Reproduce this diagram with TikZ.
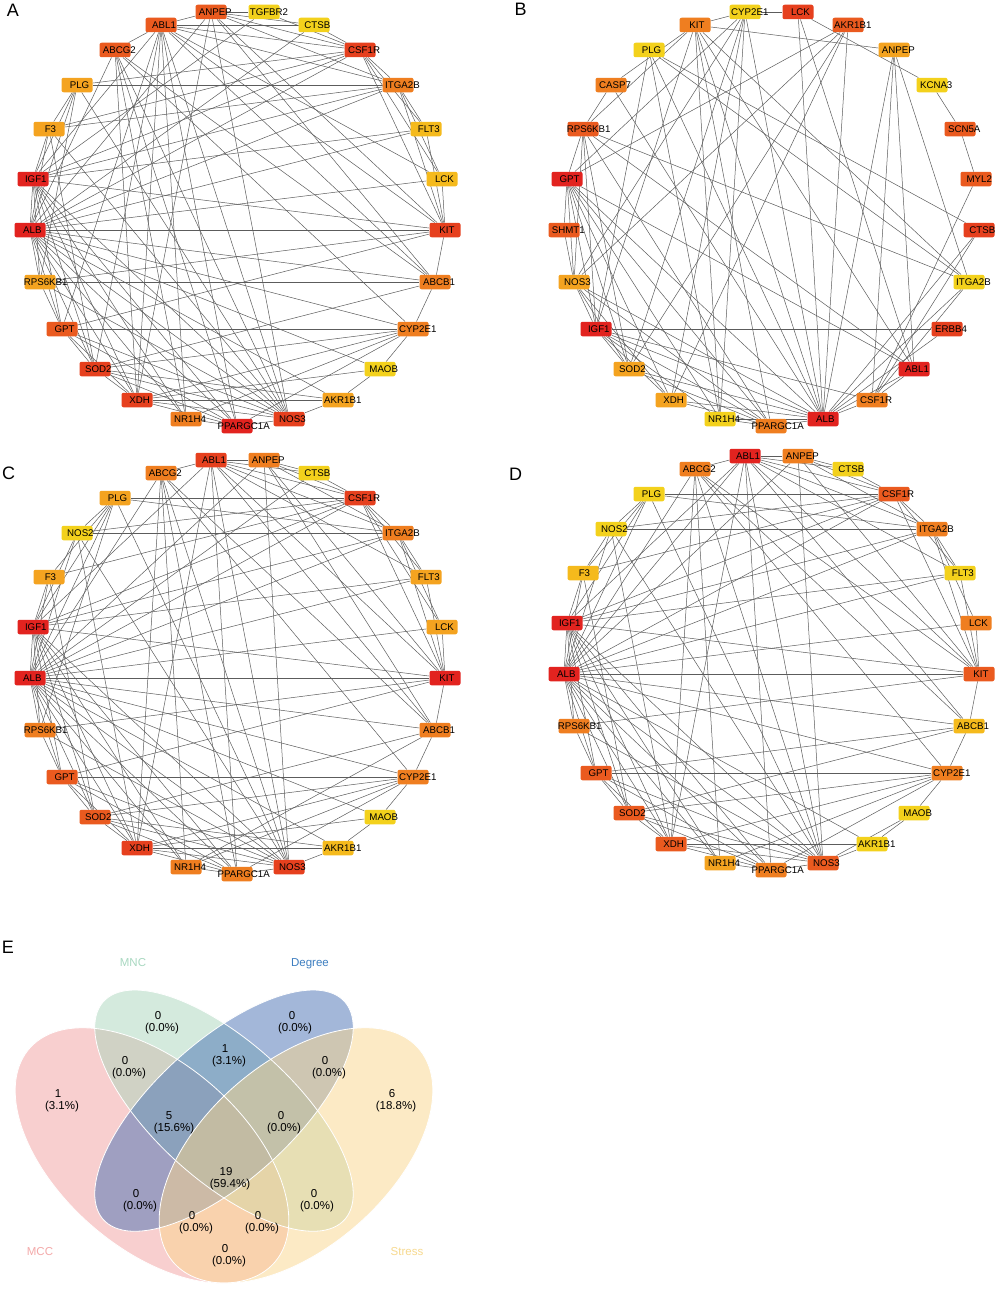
\documentclass[tikz,border=0pt]{standalone}
\usepackage{fontspec}
\setmainfont{Liberation Sans}
\pgfdeclarelayer{back}
\pgfdeclarelayer{bg}
\pgfsetlayers{back,bg,main}
\definecolor{cR}{HTML}{E2231F}
\definecolor{cRO}{HTML}{E6401E}
\definecolor{cOR}{HTML}{EA5A1F}
\definecolor{cO}{HTML}{EF7E20}
\definecolor{cLO}{HTML}{F4A320}
\definecolor{cYO}{HTML}{F5BA1C}
\definecolor{cY}{HTML}{F3D11C}
\definecolor{vMCC}{RGB}{243,160,160}
\definecolor{vMNC}{RGB}{170,214,188}
\definecolor{vDEG}{RGB}{72,113,180}
\definecolor{vSTR}{RGB}{250,214,140}
\definecolor{tMCC}{HTML}{F4A9A9}
\definecolor{tMNC}{HTML}{A8D8C0}
\definecolor{tDEG}{HTML}{3D7EC0}
\definecolor{tSTR}{HTML}{F7D98E}
\newlength\labw
\newcommand\gfont{\fontsize{9.7}{10}\selectfont}
\newcommand\shiftlab[1]{\settowidth\labw{#1}\hspace*{0.26\labw}#1}
\def\SX{{211,264,314,360,398,426,442,445,435,413,380,338,289,237,186,137,95,62,40,30,33,49,77,115,161}}
\def\SY{{12,12,25,50,85,129,179,230,282,329,369,400,419,426,419,400,369,329,282,230,179,129,85,50,25}}
\tikzset{
  gbox/.style={rectangle, rounded corners=2pt, minimum width=31pt, minimum height=14.5pt, inner sep=0pt, draw=none},
  glabel/.style={inner sep=0pt, font=\gfont, text=black},
  gedge/.style={draw=black!64, line width=0.5pt},
  plet/.style={inner sep=0pt, font=\fontsize{18}{18}\selectfont},
  vtxt/.style={inner sep=0pt, font=\fontsize{11.5}{12}\selectfont},
}
\newcommand\gpanel[4]{%
  \foreach \nm/\col [count=\i from 0] in {#4} {%
    \pgfmathsetmacro\px{\SX[\i]+#1}%
    \pgfmathsetmacro\py{\SY[\i]+#2}%
    \node[gbox, fill=\col] (#3\nm) at (\px,\py) {};
    \node[glabel] at (\px,\py) {\shiftlab{\nm}};
  }%
}
\newcommand\gedges[2]{%
  \begin{pgfonlayer}{bg}
  \foreach \u/\v in {#2} {\draw[gedge] (#1\u) -- (#1\v);}
  \end{pgfonlayer}%
}
\newcommand\vell[4]{plot[domain=0:357, samples=120, smooth cycle, variable=\t]
  ({-16+480*(#1+0.35*cos(\t)*cos(#4)-#3*sin(\t)*sin(#4))},
   {1366-448*(#2+0.35*cos(\t)*sin(#4)+#3*sin(\t)*cos(#4))})}
\newcommand\vlab[5]{%
  \node[vtxt] at (#1,#2) {#3};
  \node[vtxt] at (#4,#2+13) {#5};
}
\begin{document}
\begin{tikzpicture}[x=1pt, y=-1pt]
\useasboundingbox (0,0) rectangle (996,1290);
\begin{pgfonlayer}{back}
\fill[white] (0,0) rectangle (996,1290);
\end{pgfonlayer}

% panel letters
\node[plet] (LA) at (13,10.5) {A};
\node[plet] (LB) at (520.5,9.5) {B};
\node[plet] (LC) at (8.5,473) {C};
\node[plet] (LD) at (515.5,474) {D};
\node[plet] (LE) at (8,947) {E};

% ---------------- Panel A ----------------
\gpanel{0}{0}{a}{ANPEP/cOR,TGFBR2/cY,CTSB/cY,CSF1R/cRO,ITGA2B/cO,FLT3/cYO,LCK/cYO,KIT/cRO,ABCB1/cO,CYP2E1/cO,MAOB/cY,AKR1B1/cLO,NOS3/cRO,PPARGC1A/cR,NR1H4/cO,XDH/cRO,SOD2/cRO,GPT/cOR,RPS6KB1/cLO,ALB/cR,IGF1/cR,F3/cLO,PLG/cLO,ABCG2/cOR,ABL1/cOR}
\gedges{a}{ALB/IGF1,ALB/RPS6KB1,ALB/GPT,ALB/SOD2,ALB/XDH,ALB/NR1H4,ALB/PPARGC1A,ALB/NOS3,ALB/AKR1B1,ALB/MAOB,ALB/CYP2E1,ALB/ABCB1,ALB/KIT,ALB/LCK,ALB/FLT3,ALB/CSF1R,ALB/ANPEP,ALB/ABCG2,ALB/PLG,ALB/F3,ALB/CTSB,ALB/ITGA2B,
IGF1/RPS6KB1,IGF1/GPT,IGF1/SOD2,IGF1/XDH,IGF1/NR1H4,IGF1/PPARGC1A,IGF1/NOS3,IGF1/KIT,IGF1/CSF1R,IGF1/ABL1,IGF1/PLG,IGF1/F3,IGF1/ITGA2B,IGF1/TGFBR2,IGF1/FLT3,
NOS3/GPT,NOS3/SOD2,NOS3/XDH,NOS3/PPARGC1A,NOS3/AKR1B1,NOS3/ABCG2,NOS3/ABL1,NOS3/PLG,NOS3/F3,NOS3/RPS6KB1,NOS3/ANPEP,
PPARGC1A/GPT,PPARGC1A/SOD2,PPARGC1A/XDH,PPARGC1A/NR1H4,PPARGC1A/ABL1,PPARGC1A/ABCG2,PPARGC1A/CYP2E1,
XDH/GPT,XDH/SOD2,XDH/CYP2E1,XDH/MAOB,XDH/AKR1B1,XDH/ABL1,XDH/ANPEP,XDH/ABCG2,
SOD2/GPT,SOD2/CYP2E1,SOD2/ABCB1,SOD2/AKR1B1,SOD2/ABL1,SOD2/F3,
GPT/RPS6KB1,GPT/CYP2E1,GPT/KIT,GPT/ABL1,
KIT/ABCB1,KIT/LCK,KIT/FLT3,KIT/ITGA2B,KIT/CSF1R,KIT/ABL1,KIT/ANPEP,KIT/RPS6KB1,
CSF1R/ITGA2B,CSF1R/FLT3,CSF1R/LCK,CSF1R/ABL1,CSF1R/ANPEP,CSF1R/CTSB,CSF1R/TGFBR2,CSF1R/PLG,CSF1R/F3,
ABL1/ANPEP,ABL1/CTSB,ABL1/ITGA2B,ABL1/ABCB1,ABL1/LCK,ABL1/ABCG2,ABL1/NR1H4,
ANPEP/CTSB,ANPEP/ITGA2B,ANPEP/TGFBR2,ANPEP/ABCB1,
ABCG2/CYP2E1,ABCG2/ABCB1,ABCG2/NR1H4,
ITGA2B/FLT3,ITGA2B/LCK,ITGA2B/PLG,ITGA2B/F3,
ABCB1/CYP2E1,ABCB1/RPS6KB1,CYP2E1/MAOB,CYP2E1/NR1H4,MAOB/AKR1B1,F3/PLG,RPS6KB1/PLG}

% ---------------- Panel B ----------------
\gpanel{534}{0}{b}{CYP2E1/cY,LCK/cRO,AKR1B1/cOR,ANPEP/cLO,KCNA3/cY,SCN5A/cOR,MYL2/cOR,CTSB/cRO,ITGA2B/cY,ERBB4/cRO,ABL1/cR,CSF1R/cO,ALB/cR,PPARGC1A/cO,NR1H4/cY,XDH/cLO,SOD2/cLO,IGF1/cR,NOS3/cLO,SHMT1/cOR,GPT/cR,RPS6KB1/cOR,CASP7/cO,PLG/cY,KIT/cO}
\gedges{b}{CYP2E1/LCK,CYP2E1/KIT,CYP2E1/GPT,CYP2E1/SOD2,CYP2E1/XDH,CYP2E1/NR1H4,CYP2E1/ALB,
LCK/KCNA3,LCK/ALB,LCK/ABL1,
KIT/ANPEP,KIT/RPS6KB1,KIT/CASP7,KIT/IGF1,KIT/ALB,KIT/ITGA2B,KIT/ABL1,KIT/PPARGC1A,KIT/NR1H4,
AKR1B1/ALB,AKR1B1/NOS3,AKR1B1/SOD2,AKR1B1/XDH,AKR1B1/GPT,
ANPEP/ALB,ANPEP/CSF1R,ANPEP/ITGA2B,ANPEP/ABL1,
KCNA3/SCN5A,SCN5A/MYL2,MYL2/CSF1R,
CTSB/PLG,CTSB/ALB,CTSB/CSF1R,
ITGA2B/RPS6KB1,ITGA2B/PLG,ITGA2B/ALB,ITGA2B/CSF1R,
ERBB4/IGF1,ERBB4/ALB,
ABL1/ALB,ABL1/CSF1R,ABL1/GPT,ABL1/RPS6KB1,
CSF1R/ALB,CSF1R/IGF1,
ALB/PPARGC1A,ALB/NR1H4,ALB/XDH,ALB/SOD2,ALB/IGF1,ALB/NOS3,ALB/GPT,ALB/PLG,ALB/CASP7,
PPARGC1A/IGF1,PPARGC1A/NOS3,PPARGC1A/SOD2,PPARGC1A/XDH,PPARGC1A/NR1H4,PPARGC1A/GPT,PPARGC1A/RPS6KB1,
NR1H4/IGF1,NR1H4/GPT,NR1H4/PLG,
XDH/IGF1,XDH/NOS3,XDH/GPT,
SOD2/IGF1,SOD2/NOS3,SOD2/GPT,SOD2/RPS6KB1,
IGF1/NOS3,IGF1/GPT,IGF1/RPS6KB1,IGF1/PLG,
NOS3/GPT,NOS3/SHMT1,NOS3/RPS6KB1,NOS3/CYP2E1,SHMT1/GPT,GPT/RPS6KB1,RPS6KB1/CASP7}

% ---------------- Panel C ----------------
\gpanel{0}{448}{c}{ABL1/cRO,ANPEP/cO,CTSB/cY,CSF1R/cRO,ITGA2B/cO,FLT3/cLO,LCK/cLO,KIT/cR,ABCB1/cO,CYP2E1/cO,MAOB/cY,AKR1B1/cYO,NOS3/cRO,PPARGC1A/cO,NR1H4/cO,XDH/cRO,SOD2/cOR,GPT/cOR,RPS6KB1/cO,ALB/cR,IGF1/cR,F3/cLO,NOS2/cY,PLG/cLO,ABCG2/cO}
\gedges{c}{ALB/IGF1,ALB/RPS6KB1,ALB/GPT,ALB/SOD2,ALB/XDH,ALB/NR1H4,ALB/PPARGC1A,ALB/NOS3,ALB/AKR1B1,ALB/MAOB,ALB/CYP2E1,ALB/ABCB1,ALB/KIT,ALB/LCK,ALB/FLT3,ALB/CSF1R,ALB/ANPEP,ALB/ABCG2,ALB/PLG,ALB/F3,ALB/CTSB,ALB/ITGA2B,ALB/NOS2,
IGF1/RPS6KB1,IGF1/GPT,IGF1/SOD2,IGF1/XDH,IGF1/NR1H4,IGF1/PPARGC1A,IGF1/NOS3,IGF1/KIT,IGF1/CSF1R,IGF1/ABL1,IGF1/PLG,IGF1/F3,IGF1/ITGA2B,IGF1/NOS2,IGF1/FLT3,
NOS3/GPT,NOS3/SOD2,NOS3/XDH,NOS3/PPARGC1A,NOS3/AKR1B1,NOS3/ABCG2,NOS3/ABL1,NOS3/PLG,NOS3/NOS2,NOS3/RPS6KB1,NOS3/ANPEP,
PPARGC1A/GPT,PPARGC1A/SOD2,PPARGC1A/XDH,PPARGC1A/NR1H4,PPARGC1A/ABL1,PPARGC1A/ABCG2,PPARGC1A/CYP2E1,
XDH/GPT,XDH/SOD2,XDH/CYP2E1,XDH/MAOB,XDH/AKR1B1,XDH/ABL1,XDH/NOS2,XDH/ABCG2,
SOD2/GPT,SOD2/CYP2E1,SOD2/ABCB1,SOD2/AKR1B1,SOD2/F3,
GPT/RPS6KB1,GPT/CYP2E1,GPT/KIT,
KIT/ABCB1,KIT/LCK,KIT/FLT3,KIT/ITGA2B,KIT/CSF1R,KIT/ABL1,KIT/ANPEP,KIT/RPS6KB1,
CSF1R/ITGA2B,CSF1R/FLT3,CSF1R/LCK,CSF1R/ABL1,CSF1R/ANPEP,CSF1R/CTSB,CSF1R/NOS2,CSF1R/PLG,CSF1R/F3,
ABL1/ANPEP,ABL1/CTSB,ABL1/ITGA2B,ABL1/ABCB1,ABL1/FLT3,ABL1/ABCG2,
ANPEP/CTSB,ANPEP/ITGA2B,ANPEP/ABCB1,
ABCG2/CYP2E1,ABCG2/ABCB1,ABCG2/NR1H4,
ITGA2B/FLT3,ITGA2B/LCK,ITGA2B/PLG,ITGA2B/NOS2,
ABCB1/CYP2E1,ABCB1/NR1H4,CYP2E1/MAOB,CYP2E1/NR1H4,MAOB/AKR1B1,F3/PLG,NOS2/PLG,RPS6KB1/PLG}

% ---------------- Panel D ----------------
\gpanel{534}{444}{d}{ABL1/cR,ANPEP/cO,CTSB/cY,CSF1R/cOR,ITGA2B/cO,FLT3/cY,LCK/cO,KIT/cOR,ABCB1/cYO,CYP2E1/cO,MAOB/cY,AKR1B1/cY,NOS3/cOR,PPARGC1A/cO,NR1H4/cLO,XDH/cOR,SOD2/cOR,GPT/cOR,RPS6KB1/cO,ALB/cR,IGF1/cR,F3/cYO,NOS2/cY,PLG/cY,ABCG2/cO}
\gedges{d}{ALB/IGF1,ALB/RPS6KB1,ALB/GPT,ALB/SOD2,ALB/XDH,ALB/NR1H4,ALB/PPARGC1A,ALB/NOS3,ALB/AKR1B1,ALB/CYP2E1,ALB/ABCB1,ALB/KIT,ALB/LCK,ALB/FLT3,ALB/CSF1R,ALB/ANPEP,ALB/ABCG2,ALB/PLG,ALB/F3,ALB/ABL1,ALB/ITGA2B,ALB/NOS2,
IGF1/RPS6KB1,IGF1/GPT,IGF1/SOD2,IGF1/XDH,IGF1/NR1H4,IGF1/PPARGC1A,IGF1/NOS3,IGF1/KIT,IGF1/CSF1R,IGF1/ABL1,IGF1/PLG,IGF1/F3,IGF1/ITGA2B,IGF1/FLT3,
NOS3/GPT,NOS3/SOD2,NOS3/XDH,NOS3/PPARGC1A,NOS3/AKR1B1,NOS3/ABCG2,NOS3/ABL1,NOS3/PLG,NOS3/NOS2,NOS3/RPS6KB1,NOS3/ANPEP,NOS3/MAOB,
PPARGC1A/GPT,PPARGC1A/SOD2,PPARGC1A/XDH,PPARGC1A/NR1H4,PPARGC1A/ABL1,PPARGC1A/CYP2E1,
XDH/GPT,XDH/SOD2,XDH/CYP2E1,XDH/AKR1B1,XDH/ABL1,XDH/NOS2,XDH/ABCG2,
SOD2/GPT,SOD2/CYP2E1,SOD2/ABCB1,SOD2/F3,
GPT/RPS6KB1,GPT/CYP2E1,GPT/ABCB1,
KIT/ABCB1,KIT/LCK,KIT/FLT3,KIT/ITGA2B,KIT/CSF1R,KIT/ABL1,KIT/ABCG2,KIT/RPS6KB1,
CSF1R/ITGA2B,CSF1R/FLT3,CSF1R/ABL1,CSF1R/ANPEP,CSF1R/CTSB,CSF1R/NOS2,CSF1R/PLG,CSF1R/F3,
ABL1/ANPEP,ABL1/CTSB,ABL1/ITGA2B,ABL1/ABCB1,ABL1/FLT3,ABL1/ABCG2,
ANPEP/CTSB,ANPEP/ITGA2B,ANPEP/KIT,
ABCG2/CYP2E1,ABCG2/ABCB1,ABCG2/NR1H4,
ITGA2B/FLT3,ITGA2B/LCK,ITGA2B/PLG,ITGA2B/NOS2,
ABCB1/CYP2E1,CYP2E1/MAOB,CYP2E1/NR1H4,MAOB/AKR1B1,F3/PLG,NOS2/PLG,F3/NOS2}

% ---------------- Panel E (Venn) ----------------
\fill[vMCC, fill opacity=0.5] \vell{0.35}{0.47}{0.2}{135};
\fill[vMNC, fill opacity=0.5] \vell{0.5}{0.57}{0.15}{135};
\fill[vDEG, fill opacity=0.5] \vell{0.5}{0.57}{0.15}{45};
\fill[vSTR, fill opacity=0.5] \vell{0.65}{0.47}{0.2}{45};
\draw[white, line width=0.8pt] \vell{0.35}{0.47}{0.2}{135};
\draw[white, line width=0.8pt] \vell{0.5}{0.57}{0.15}{135};
\draw[white, line width=0.8pt] \vell{0.5}{0.57}{0.15}{45};
\draw[white, line width=0.8pt] \vell{0.65}{0.47}{0.2}{45};

\node[vtxt, text=tMNC] (sMNC) at (133,963) {MNC};
\node[vtxt, text=tDEG] (sDEG) at (310,964) {Degree};
\node[vtxt, text=tMCC] (sMCC) at (40,1252) {MCC};
\node[vtxt, text=tSTR] (sSTR) at (407,1252) {Stress};

\vlab{158}{1016}{0}{162}{(0.0\%)}
\vlab{292}{1016}{0}{295}{(0.0\%)}
\vlab{125}{1061}{0}{129}{(0.0\%)}
\vlab{225}{1049}{1}{229}{(3.1\%)}
\vlab{325}{1061}{0}{329}{(0.0\%)}
\vlab{58}{1094}{1}{62}{(3.1\%)}
\vlab{392}{1094}{6}{396}{(18.8\%)}
\vlab{169}{1116}{5}{174}{(15.6\%)}
\vlab{281}{1116}{0}{284}{(0.0\%)}
\vlab{226}{1172}{19}{230}{(59.4\%)}
\vlab{136}{1194}{0}{140}{(0.0\%)}
\vlab{314}{1194}{0}{317}{(0.0\%)}
\vlab{192}{1216}{0}{196}{(0.0\%)}
\vlab{258}{1216}{0}{262}{(0.0\%)}
\vlab{225}{1249}{0}{229}{(0.0\%)}
\end{tikzpicture}
\end{document}
